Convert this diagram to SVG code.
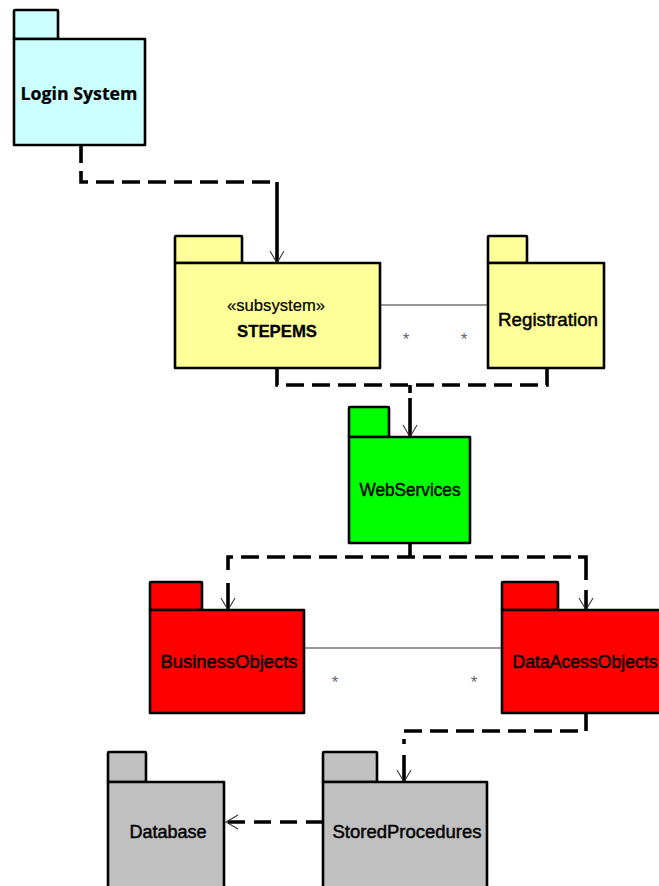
<svg xmlns="http://www.w3.org/2000/svg" width="659" height="886" viewBox="0 0 659 886">
  <style>
    .pkg { stroke: #000; stroke-width: 2.6; stroke-linejoin: round; }
    .cyan { fill: #CCFFFF; }
    .yellow { fill: #FFFF99; }
    .green { fill: #00FF00; }
    .red { fill: #FF0000; }
    .gray { fill: #C0C0C0; }
    .lbl { font-family: "Liberation Sans", Arial, sans-serif; font-size: 18px; fill: #000; text-anchor: middle; stroke: #000; stroke-width: 0.45; }
    .bold { font-weight: bold; }
    .dep { fill: none; stroke: #000; stroke-width: 3.6; stroke-dasharray: 18 8; }
    .shaft { fill: none; stroke: #000; stroke-width: 3.6; }
    .assoc { fill: none; stroke: #333; stroke-width: 1.2; }
    .mult { font-family: "Liberation Sans", Arial, sans-serif; font-size: 17px; fill: #666; text-anchor: middle; }
  </style>
  <defs>
    <marker id="open" markerUnits="userSpaceOnUse" viewBox="-14 -10 16 20" refX="0" refY="0" markerWidth="16" markerHeight="20" orient="auto">
      <path d="M-12,-7 L0,0 L-12,7" fill="none" stroke="#333" stroke-width="1.1"/>
    </marker>
  </defs>

  <!-- connectors -->
  <g id="connectors">
    <!-- Login System to STEPEMS -->
    <path class="dep" d="M81,145 V182 H277" stroke-dasharray="20 12 18 8 18 8 18 8 18 8 18 8 18 8 18 8"/>
    <path class="shaft" d="M277,182 V263" marker-end="url(#open)"/>
    <!-- STEPEMS and Registration to WebServices -->
    <path class="dep" d="M277,368 V385 H547 V368"/>
    <path class="shaft" d="M410,385 V437" stroke-dasharray="8 5 80" marker-end="url(#open)"/>
    <!-- WebServices to BusinessObjects and DataAcessObjects -->
    <path class="shaft" d="M410,543 V557"/>
    <path class="dep" d="M228,570 V557 H578"/>
    <path class="shaft" d="M578,557 H586 V580"/>
    <path class="shaft" d="M228,583 V610" marker-end="url(#open)"/>
    <path class="shaft" d="M586,590 V610" marker-end="url(#open)"/>
    <!-- DataAcessObjects to StoredProcedures -->
    <path class="dep" d="M586,713 V731 H404 V744"/>
    <path class="shaft" d="M404,755 V782" marker-end="url(#open)"/>
    <!-- StoredProcedures to Database -->
    <path class="shaft" d="M323,822 H226" stroke-dasharray="17 9" marker-end="url(#open)"/>
    <!-- associations -->
    <path class="assoc" d="M380,305 H488"/>
    <path class="assoc" d="M304,648 H502"/>
    <text class="mult" x="406" y="345">*</text>
    <text class="mult" x="464" y="345">*</text>
    <text class="mult" x="335" y="688">*</text>
    <text class="mult" x="474" y="688">*</text>
  </g>

  <g id="login-system">
    <path class="pkg cyan" d="M14,39 V11 Q14,10 15,10 H57 Q58,10 58,11 V39 Z"/>
    <path class="pkg cyan" d="M14,39 H145 V145 H14 Z"/>
    <text class="lbl bold" x="79" y="100" style="font-family:'Open Sans','Noto Sans',sans-serif;font-size:17px;stroke-width:0.2" textLength="117" lengthAdjust="spacingAndGlyphs">Login System</text>
  </g>

  <g id="stepems">
    <path class="pkg yellow" d="M175,263 V237 Q175,236 176,236 H241 Q242,236 242,237 V263 Z"/>
    <path class="pkg yellow" d="M175,263 H380 V368 H175 Z"/>
    <text class="lbl" x="276" y="311" style="font-size:16.5px;stroke-width:0.2" textLength="98" lengthAdjust="spacingAndGlyphs">«subsystem»</text>
    <text class="lbl bold" x="277" y="337" style="font-size:17px;stroke-width:0.3" textLength="80" lengthAdjust="spacingAndGlyphs">STEPEMS</text>
  </g>

  <g id="registration">
    <path class="pkg yellow" d="M488,263 V237 Q488,236 489,236 H526 Q527,236 527,237 V263 Z"/>
    <path class="pkg yellow" d="M488,263 H604 V368 H488 Z"/>
    <text class="lbl" x="548" y="326" textLength="100" lengthAdjust="spacingAndGlyphs">Registration</text>
  </g>

  <g id="web-services">
    <path class="pkg green" d="M349,437 V408 Q349,407 350,407 H388 Q389,407 389,408 V437 Z"/>
    <path class="pkg green" d="M349,437 H470 V543 H349 Z"/>
    <text class="lbl" x="410" y="496" textLength="101" lengthAdjust="spacingAndGlyphs">WebServices</text>
  </g>

  <g id="business-objects">
    <path class="pkg red" d="M150,610 V583 Q150,582 151,582 H201 Q202,582 202,583 V610 Z"/>
    <path class="pkg red" d="M150,610 H304 V713 H150 Z"/>
    <text class="lbl" x="229" y="668" textLength="137" lengthAdjust="spacingAndGlyphs">BusinessObjects</text>
  </g>

  <g id="data-acess-objects">
    <path class="pkg red" d="M502,610 V583 Q502,582 503,582 H557 Q558,582 558,583 V610 Z"/>
    <path class="pkg red" d="M502,610 H672 V713 H502 Z"/>
    <text class="lbl" x="585" y="668" textLength="145" lengthAdjust="spacingAndGlyphs">DataAcessObjects</text>
  </g>

  <g id="database">
    <path class="pkg gray" d="M108,782 V753 Q108,752 109,752 H145 Q146,752 146,753 V782 Z"/>
    <path class="pkg gray" d="M108,782 H224 V900 H108 Z"/>
    <text class="lbl" x="168" y="838" textLength="77" lengthAdjust="spacingAndGlyphs">Database</text>
  </g>

  <g id="stored-procedures">
    <path class="pkg gray" d="M323,782 V753 Q323,752 324,752 H376 Q377,752 377,753 V782 Z"/>
    <path class="pkg gray" d="M323,782 H487 V900 H323 Z"/>
    <text class="lbl" x="407" y="838" textLength="149" lengthAdjust="spacingAndGlyphs">StoredProcedures</text>
  </g>
</svg>
